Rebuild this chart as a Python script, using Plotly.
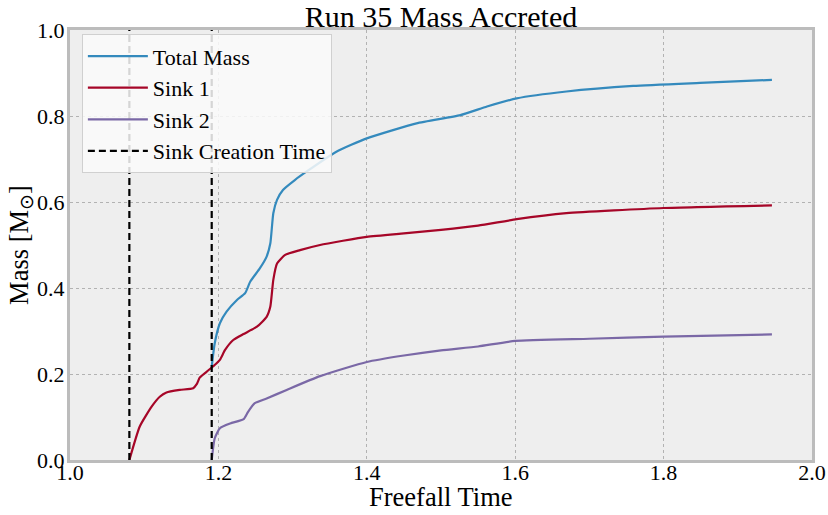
import plotly.graph_objects as go

# ---- data ----
t_sink1 = [1.080, 1.094, 1.110, 1.121, 1.130, 1.148, 1.166, 1.171, 1.175, 1.184, 1.195,
           1.202, 1.209, 1.220, 1.234, 1.252, 1.265, 1.270, 1.274, 1.279, 1.290, 1.310,
           1.337, 1.400, 1.450, 1.500, 1.550, 1.602, 1.669, 1.800, 1.946]
m_sink1 = [0.000, 0.078, 0.124, 0.147, 0.157, 0.163, 0.167, 0.177, 0.192, 0.205, 0.221,
           0.233, 0.256, 0.279, 0.293, 0.310, 0.333, 0.357, 0.419, 0.457, 0.477, 0.488,
           0.500, 0.519, 0.527, 0.535, 0.545, 0.560, 0.574, 0.586, 0.592]

t_sink2 = [1.191, 1.195, 1.202, 1.216, 1.234, 1.240, 1.249, 1.265, 1.292, 1.337, 1.400,
           1.450, 1.500, 1.550, 1.600, 1.700, 1.800, 1.946]
m_sink2 = [0.000, 0.050, 0.074, 0.085, 0.095, 0.112, 0.132, 0.143, 0.163, 0.195, 0.228,
           0.243, 0.255, 0.264, 0.277, 0.282, 0.287, 0.292]

t_total = [1.191, 1.195, 1.202, 1.211, 1.225, 1.236, 1.243, 1.256, 1.265, 1.270, 1.274,
           1.279, 1.287, 1.303, 1.319, 1.359, 1.400, 1.467, 1.526, 1.562, 1.602, 1.669,
           1.759, 1.849, 1.946]
m_total = [0.217, 0.271, 0.318, 0.345, 0.372, 0.388, 0.415, 0.446, 0.473, 0.504, 0.574,
           0.605, 0.628, 0.651, 0.671, 0.717, 0.748, 0.783, 0.802, 0.822, 0.841, 0.857,
           0.870, 0.877, 0.884]

sink_creation_times = [1.080, 1.191]

title_text = "Run 35 Mass Accreted"
x_label = "Freefall Time"
y_label = "Mass [M<sub>⊙</sub>]"
x_ticks = [1.0, 1.2, 1.4, 1.6, 1.8, 2.0]
y_ticks = [0.0, 0.2, 0.4, 0.6, 0.8, 1.0]

FONT = "Liberation Serif, Times New Roman, serif"

fig = go.Figure()
fig.add_trace(go.Scatter(x=t_total, y=m_total, mode="lines", name="Total Mass",
                         line=dict(color="#348ABD", width=2.2, shape="spline", smoothing=0.5),
                         legendgroup="a"))
fig.add_trace(go.Scatter(x=t_sink1, y=m_sink1, mode="lines", name="Sink 1",
                         line=dict(color="#A60628", width=2.2, shape="spline", smoothing=0.5),
                         legendgroup="b"))
fig.add_trace(go.Scatter(x=t_sink2, y=m_sink2, mode="lines", name="Sink 2",
                         line=dict(color="#7A68A6", width=2.2, shape="spline", smoothing=0.5),
                         legendgroup="c"))
for i, t in enumerate(sink_creation_times):
    fig.add_trace(go.Scatter(x=[t, t], y=[0, 1], mode="lines", name="Sink Creation Time",
                             line=dict(color="black", width=2.2, dash="7px,4px"),
                             showlegend=(i == 0), legendgroup="d"))

axis_common = dict(
    showline=True, mirror=True, linecolor="#bcbcbc", linewidth=3,
    showgrid=True, gridcolor="#b2b2b2", griddash="dot", gridwidth=1,
    zeroline=False, ticks="",
    tickfont=dict(family=FONT, size=22, color="black"),
)

fig.update_layout(
    width=828, height=515,
    margin=dict(l=70, r=16, t=30, b=55),
    paper_bgcolor="white", plot_bgcolor="#eeeeee",
    font=dict(family=FONT, color="black"),
    title=dict(text=title_text, x=0.5, xanchor="center", xref="paper",
               y=1, yref="paper", yanchor="bottom", pad=dict(b=3),
               font=dict(family=FONT, size=30, color="black")),
    xaxis=dict(range=[1.0, 2.0], tickvals=x_ticks, ticktext=[f"{v:.1f}" for v in x_ticks],
               ticklabelstandoff=-9, automargin=False, **axis_common),
    yaxis=dict(range=[0.0, 1.0], tickvals=y_ticks, ticktext=[f"{v:.1f}" for v in y_ticks],
               ticklabelstandoff=-2, automargin=True,
               title=dict(text=y_label, font=dict(family=FONT, size=26.5, color="black"),
                          standoff=0),
               **axis_common),
    annotations=[
        dict(text=x_label, xref="paper", yref="paper", x=0.5, y=-0.086,
             xanchor="center", yanchor="middle", showarrow=False,
             font=dict(family=FONT, size=26.5, color="black")),
    ],
    legend=dict(x=0.016, y=0.99, xanchor="left", yanchor="top",
                bgcolor="rgba(250,250,250,0.85)", bordercolor="#d0d0d0", borderwidth=1,
                font=dict(family=FONT, size=22, color="black"),
                itemwidth=60, tracegroupgap=0),
    showlegend=True,
)

fig.write_html("out.html")
